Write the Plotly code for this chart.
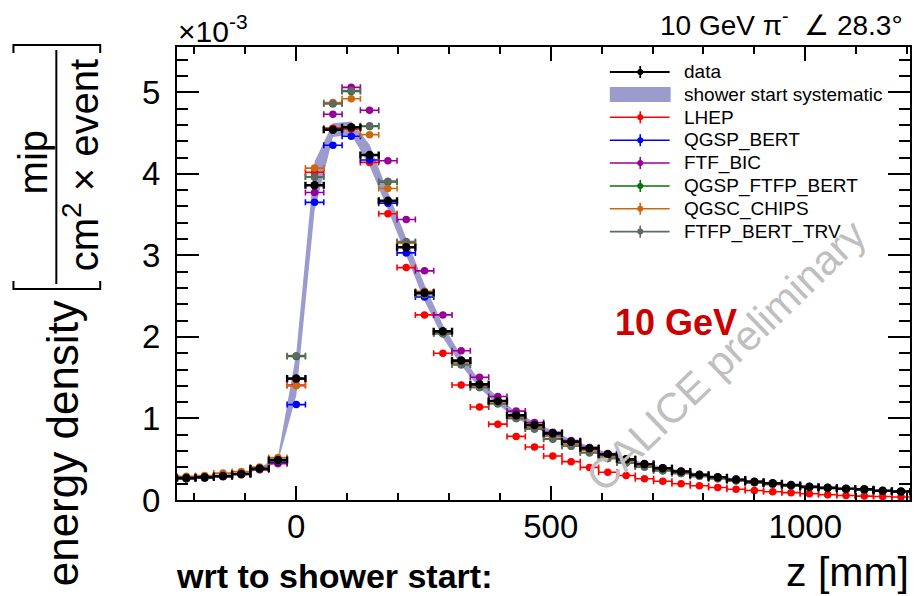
import plotly.graph_objects as go

# ---------------------------------------------------------------- data
# bin centres along the shower axis, relative to the shower start [mm]
z_mm = [-216, -180, -144, -108, -72, -36, 0, 36, 72, 108, 144, 180, 216, 252,
        288, 324, 360, 396, 432, 468, 504, 540, 576, 612, 648, 684, 720, 756,
        792, 828, 864, 900, 936, 972, 1008, 1044, 1080, 1116, 1152, 1188]
half_bin_mm = 18

# energy density in units of 1e-3 mip / (cm^2 x event)
data = [0.27, 0.28, 0.295, 0.32, 0.385, 0.49, 1.49, 3.86, 4.54, 4.57, 4.23, 3.67,
        3.10, 2.54, 2.07, 1.71, 1.42, 1.215, 1.04, 0.92, 0.82, 0.715, 0.635, 0.56,
        0.50, 0.44, 0.39, 0.35, 0.31, 0.28, 0.25, 0.225, 0.205, 0.184, 0.163,
        0.151, 0.139, 0.131, 0.114, 0.105]
syst_low = [0.26, 0.27, 0.285, 0.31, 0.375, 0.46, 1.28, 3.55, 4.45, 4.48, 4.10, 3.56,
            3.00, 2.44, 1.99, 1.65, 1.37, 1.17, 1.00, 0.885, 0.79, 0.69, 0.61, 0.54,
            0.48, 0.425, 0.375, 0.337, 0.298, 0.27, 0.24, 0.216, 0.197, 0.177, 0.157,
            0.145, 0.134, 0.126, 0.11, 0.101]
syst_high = [0.28, 0.29, 0.305, 0.33, 0.395, 0.53, 1.80, 4.15, 4.62, 4.64, 4.36, 3.78,
             3.20, 2.64, 2.15, 1.77, 1.47, 1.26, 1.08, 0.955, 0.85, 0.74, 0.66, 0.58,
             0.52, 0.455, 0.405, 0.363, 0.322, 0.29, 0.26, 0.234, 0.213, 0.191, 0.169,
             0.157, 0.144, 0.136, 0.118, 0.109]

lhep = [0.26, 0.27, 0.285, 0.31, 0.37, 0.445, 1.41, 4.02, 4.56, 4.55, 4.14, 3.51,
        2.85, 2.27, 1.80, 1.41, 1.14, 0.93, 0.78, 0.65, 0.54, 0.47, 0.40, 0.34,
        0.30, 0.26, 0.23, 0.20, 0.174, 0.153, 0.132, 0.117, 0.102, 0.09, 0.076,
        0.065, 0.056, 0.048, 0.042, 0.036]
qgsp_bert = [0.26, 0.27, 0.29, 0.315, 0.375, 0.46, 1.17, 3.65, 4.35, 4.46, 4.17, 3.64,
             3.03, 2.49, 2.05, 1.70, 1.41, 1.21, 1.03, 0.91, 0.80, 0.705, 0.625, 0.55,
             0.49, 0.43, 0.385, 0.345, 0.305, 0.275, 0.245, 0.22, 0.20, 0.18, 0.16,
             0.148, 0.136, 0.128, 0.112, 0.103]
ftf_bic = [0.27, 0.28, 0.295, 0.32, 0.38, 0.48, 1.48, 3.77, 4.73, 5.06, 4.78, 4.16,
           3.44, 2.81, 2.27, 1.83, 1.505, 1.27, 1.09, 0.95, 0.83, 0.73, 0.645, 0.57,
           0.505, 0.445, 0.395, 0.353, 0.313, 0.283, 0.253, 0.228, 0.207, 0.186, 0.165,
           0.153, 0.141, 0.132, 0.116, 0.107]
qgsp_ftfp_bert = [0.265, 0.275, 0.29, 0.315, 0.38, 0.48, 1.76, 3.96, 4.86, 5.01, 4.58, 3.90,
                  3.16, 2.52, 2.04, 1.66, 1.38, 1.18, 1.00, 0.87, 0.75, 0.66, 0.58, 0.51,
                  0.455, 0.405, 0.36, 0.325, 0.29, 0.262, 0.235, 0.21, 0.192, 0.173, 0.154,
                  0.143, 0.132, 0.124, 0.108, 0.10]
qgsc_chips = [0.29, 0.30, 0.33, 0.35, 0.405, 0.52, 1.40, 4.07, 4.875, 4.92, 4.48, 3.82,
              3.15, 2.56, 2.06, 1.68, 1.39, 1.19, 1.015, 0.89, 0.78, 0.685, 0.605, 0.535,
              0.47, 0.42, 0.37, 0.335, 0.298, 0.268, 0.24, 0.215, 0.196, 0.177, 0.157,
              0.146, 0.135, 0.127, 0.111, 0.102]
ftfp_bert_trv = [0.265, 0.275, 0.29, 0.315, 0.38, 0.48, 1.77, 3.96, 4.86, 5.02, 4.59, 3.91,
                 3.17, 2.52, 2.04, 1.66, 1.38, 1.18, 1.00, 0.87, 0.745, 0.66, 0.58, 0.51,
                 0.455, 0.405, 0.36, 0.325, 0.29, 0.262, 0.235, 0.21, 0.192, 0.173, 0.154,
                 0.143, 0.132, 0.124, 0.108, 0.10]

models = [
    ("LHEP", lhep, "#ff0000"),
    ("QGSP_BERT", qgsp_bert, "#0000ff"),
    ("FTF_BIC", ftf_bic, "#990099"),
    ("QGSP_FTFP_BERT", qgsp_ftfp_bert, "#007700"),
    ("QGSC_CHIPS", qgsc_chips, "#cc6611"),
    ("FTFP_BERT_TRV", ftfp_bert_trv, "#5f6864"),
]
band_color = "rgb(155,155,206)"

FONT = "Liberation Sans, Arial, Helvetica, sans-serif"
W, H = 916, 596
L, R, T, B = 177, 912, 47, 500          # plot frame in pixels


def px(x):
    return (x - L) / (R - L)


def py(y):
    return (B - y) / (B - T)


fig = go.Figure()

# systematic band from the shower-start determination
fig.add_trace(go.Scatter(x=z_mm, y=syst_low, mode="lines", line=dict(width=0),
                         hoverinfo="skip", showlegend=False))
fig.add_trace(go.Scatter(x=z_mm, y=syst_high, mode="lines", line=dict(width=0),
                         fill="tonexty", fillcolor=band_color,
                         hoverinfo="skip", showlegend=False))

# simulations
for name, vals, col in models:
    fig.add_trace(go.Scatter(
        x=z_mm, y=vals, mode="markers", name=name,
        marker=dict(color=col, size=7.5, line=dict(width=0)),
        error_x=dict(type="constant", value=half_bin_mm, color=col,
                     thickness=1.6, width=3),
        showlegend=False))

# measurement
fig.add_trace(go.Scatter(
    x=z_mm, y=data, mode="markers", name="data",
    marker=dict(color="black", size=8.5, line=dict(width=0)),
    error_x=dict(type="constant", value=half_bin_mm, color="black",
                 thickness=2.4, width=3.5),
    showlegend=False))

shapes = []
annotations = []

# ---------------------------------------------------------------- legend
leg_rows = [72, 94.5, 117.3, 140.2, 163, 186, 208.8, 231.6]
leg_entries = [("data", "black")] + [("shower start systematic", None)] + \
              [(n, c) for n, _, c in models]
for y, (label, col) in zip(leg_rows, leg_entries):
    if col is None:
        shapes.append(dict(type="rect", xref="paper", yref="paper",
                           x0=px(611), x1=px(672), y0=py(y + 7.5), y1=py(y - 7.5),
                           fillcolor=band_color, line=dict(width=0)))
    else:
        lw = 1.6 if col != "black" else 1.8
        shapes.append(dict(type="line", xref="paper", yref="paper",
                           x0=px(611), x1=px(671), y0=py(y), y1=py(y),
                           line=dict(color=col, width=lw)))
        shapes.append(dict(type="line", xref="paper", yref="paper",
                           xsizemode="pixel", ysizemode="pixel",
                           xanchor=px(641.5), yanchor=py(y),
                           x0=0, x1=0, y0=-6, y1=6,
                           line=dict(color=col, width=lw)))
        shapes.append(dict(type="circle", xref="paper", yref="paper",
                           xsizemode="pixel", ysizemode="pixel",
                           xanchor=px(641.5), yanchor=py(y),
                           x0=-3, x1=3, y0=-3, y1=3,
                           fillcolor=col, line=dict(width=0)))
    annotations.append(dict(text=label, x=px(683), y=py(y), xref="paper", yref="paper",
                            xanchor="left", yanchor="middle", showarrow=False,
                            font=dict(family=FONT, size=19, color="black")))

# ---------------------------------------------------------------- texts
annotations += [
    dict(text="×10<sup>-3</sup>", x=px(176), y=py(29), xanchor="left", yanchor="middle",
         font=dict(family=FONT, size=30, color="black")),
    dict(text="10 GeV π<sup>-</sup>  ∠ 28.3°", x=px(907), y=py(23), xanchor="right",
         yanchor="middle", font=dict(family=FONT, size=28, color="black")),
    dict(text="<b>10 GeV</b>", x=px(677), y=py(322), xanchor="center", yanchor="middle",
         font=dict(family=FONT, size=36, color="#cc0000")),
    dict(text="CALICE preliminary", x=px(728), y=py(356), xanchor="center",
         yanchor="middle", textangle=-44,
         font=dict(family=FONT, size=42, color="#bfbfbf")),
    dict(text="z [mm]", x=px(913), y=py(572), xanchor="right", yanchor="middle",
         font=dict(family=FONT, size=41, color="black")),
    dict(text="<b>wrt to shower start:</b>", x=px(174), y=py(576), xanchor="left",
         yanchor="middle", font=dict(family=FONT, size=34, color="black")),
    # y-axis title: energy density [mip / (cm^2 x event)]
    dict(text="energy density", x=px(62), y=py(443), xanchor="center", yanchor="middle",
         textangle=-90, font=dict(family=FONT, size=44, color="black")),
    dict(text="mip", x=px(33), y=py(162), xanchor="center", yanchor="middle",
         textangle=-90, font=dict(family=FONT, size=40, color="black")),
    dict(text="cm<sup>2</sup> × event", x=px(81), y=py(165), xanchor="center",
         yanchor="middle", textangle=-90, font=dict(family=FONT, size=40, color="black")),
]
for a in annotations:
    a.setdefault("xref", "paper")
    a.setdefault("yref", "paper")
    a.setdefault("showarrow", False)

# fraction bar and square brackets of the y title
shapes += [
    dict(type="line", xref="paper", yref="paper", x0=px(56), x1=px(56),
         y0=py(50), y1=py(284), line=dict(color="black", width=2)),
    dict(type="path", xref="paper", yref="paper",
         path=f"M {px(13)},{py(281)} L {px(13)},{py(289)} L {px(100)},{py(289)} "
              f"L {px(100)},{py(281)}",
         line=dict(color="black", width=2)),
    dict(type="path", xref="paper", yref="paper",
         path=f"M {px(13)},{py(53)} L {px(13)},{py(45)} L {px(100)},{py(45)} "
              f"L {px(100)},{py(53)}",
         line=dict(color="black", width=2)),
]

axis_common = dict(showline=True, linecolor="black", linewidth=2, mirror="allticks",
                   ticks="inside", tickcolor="black", tickwidth=2, showgrid=False,
                   zeroline=False, tickfont=dict(family=FONT, size=33, color="black"))

fig.update_layout(
    width=W, height=H,
    margin=dict(l=L, r=W - R, t=T, b=H - B),
    paper_bgcolor="white", plot_bgcolor="white",
    showlegend=False,
    xaxis=dict(range=[-234.3, 1205.7], tick0=0, dtick=500, ticklen=14,
               ticklabelstandoff=-4,
               minor=dict(dtick=100, tick0=0, ticklen=7, ticks="inside",
                          tickcolor="black", tickwidth=2),
               **axis_common),
    yaxis=dict(range=[0, 5.555], tick0=0, dtick=1, ticklen=22,
               ticklabelstandoff=8,
               minor=dict(dtick=0.2, tick0=0, ticklen=11, ticks="inside",
                          tickcolor="black", tickwidth=2),
               **axis_common),
    shapes=shapes,
    annotations=annotations,
)

fig.write_html("out.html")
